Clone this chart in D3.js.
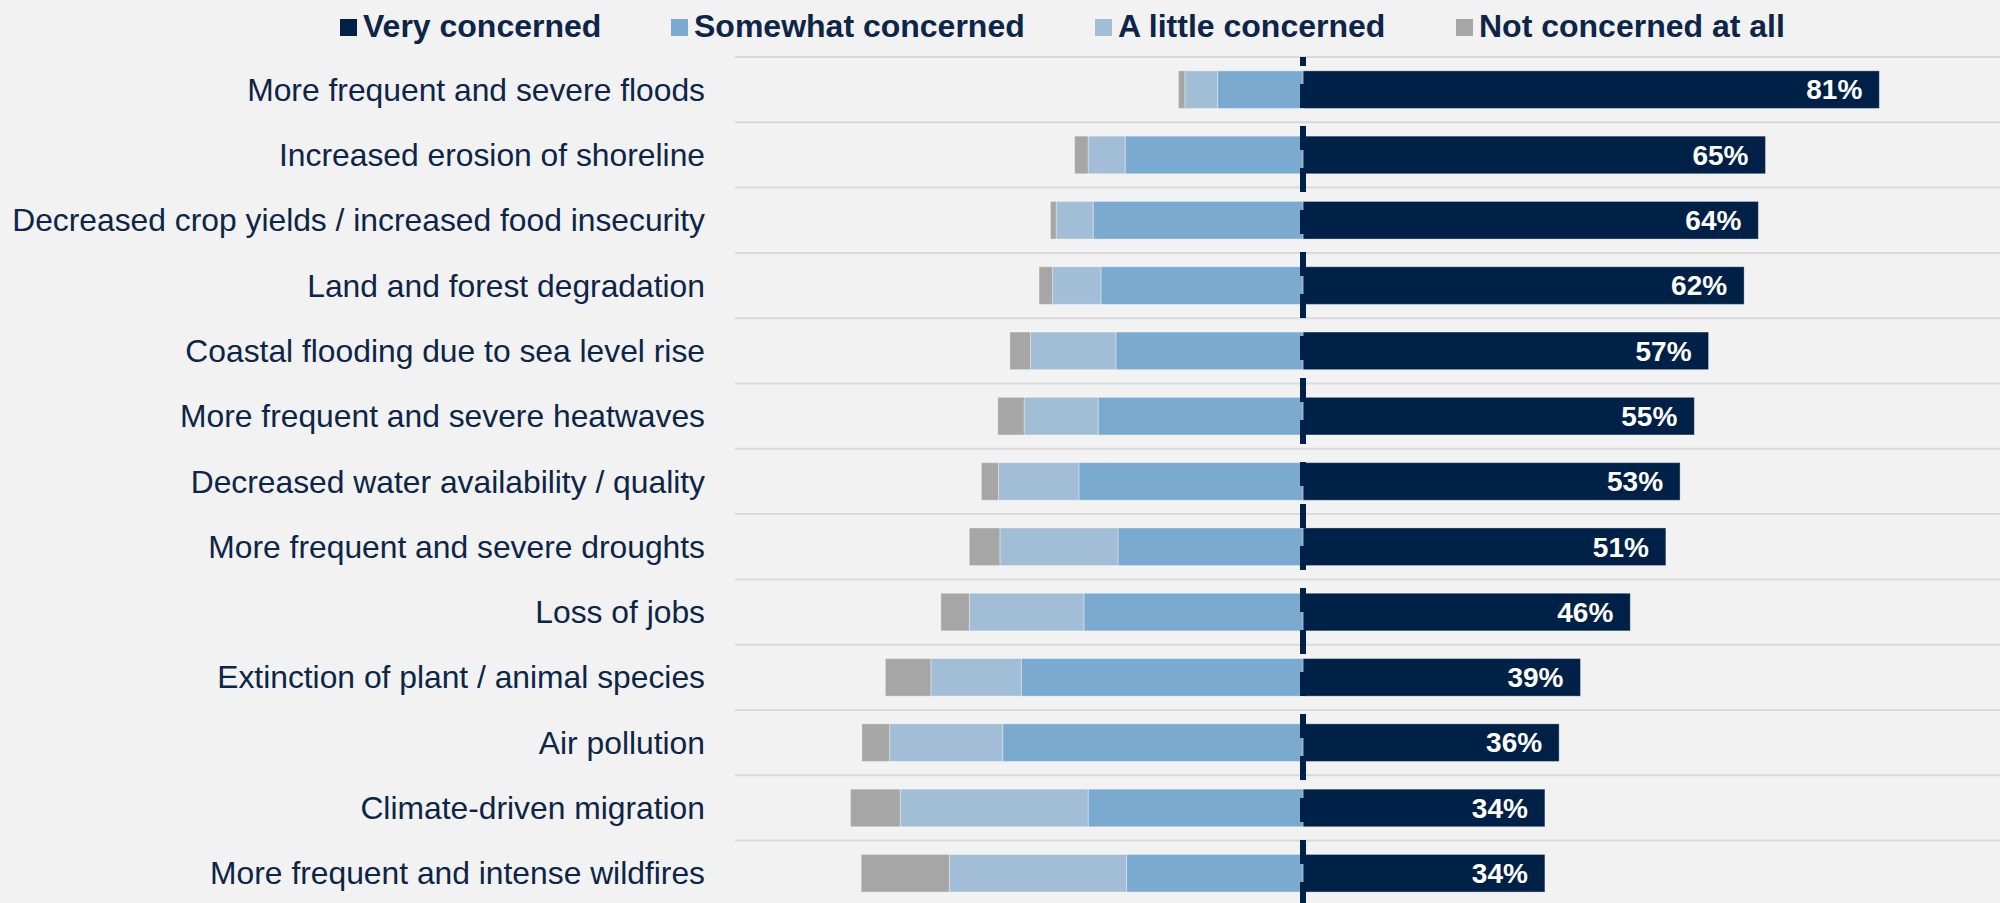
<!DOCTYPE html>
<html>
<head>
<meta charset="utf-8">
<script src="https://cdn.jsdelivr.net/npm/d3@7/dist/d3.min.js"></script>
<style>
  html, body { margin: 0; padding: 0; background: #f2f2f2; }
  svg { display: block; font-family: "Liberation Sans", Arial, sans-serif; }
</style>
</head>
<body>
<svg id="chart" width="2000" height="903"></svg>
<script>
const categories = [
  "More frequent and severe floods",
  "Increased erosion of shoreline",
  "Decreased crop yields / increased food insecurity",
  "Land and forest degradation",
  "Coastal flooding due to sea level rise",
  "More frequent and severe heatwaves",
  "Decreased water availability / quality",
  "More frequent and severe droughts",
  "Loss of jobs",
  "Extinction of plant / animal species",
  "Air pollution",
  "Climate-driven migration",
  "More frequent and intense wildfires"
];
const veryConcerned     = [81, 65, 64, 62, 57, 55, 53, 51, 46, 39, 36, 34, 34];
const somewhatConcerned = [12, 25, 29.5, 28.4, 26.3, 28.8, 31.5, 26, 30.8, 39.6, 42.2, 30.2, 24.8];
const littleConcerned   = [4.6, 5.2, 5.2, 6.8, 12, 10.4, 11.3, 16.6, 16.1, 12.7, 15.9, 26.4, 24.9];
const notConcerned      = [0.9, 1.9, 0.8, 1.9, 2.9, 3.7, 2.4, 4.3, 4, 6.4, 3.9, 7, 12.4];
const seriesNames = ["Very concerned", "Somewhat concerned", "A little concerned", "Not concerned at all"];
const seriesColors = ["#002147", "#7baad1", "#a2bdd6", "#a6a6a6"];

const svg = d3.select("#chart");
const W = 2000;
const textColor = "#0c2548";

const center = 1303, pxPerPct = 7.115;
const x = d3.scaleLinear().domain([-100, 100]).range([center - 100 * pxPerPct, center + 100 * pxPerPct]);

const topY = 57, step = 65.3;
const yRow = d3.scaleBand().domain(categories).range([topY, topY + step * categories.length]);
const y = d3.scaleBand().domain(categories).range([topY, topY + step * categories.length])
  .paddingInner(0.424).paddingOuter(0.212);

// gridlines
svg.append("g").selectAll("line").data(categories).join("line")
  .attr("x1", 735).attr("x2", W)
  .attr("y1", d => yRow(d)).attr("y2", d => yRow(d))
  .attr("stroke", "#d9d9d9").attr("stroke-width", 2);

// build stacked segments
const rows = categories.map((c, i) => {
  const s = somewhatConcerned[i], l = littleConcerned[i], n = notConcerned[i];
  return {
    cat: c,
    segs: [
      { k: 0, x0: 0, x1: veryConcerned[i] },
      { k: 1, x0: -s, x1: 0 },
      { k: 2, x0: -(s + l), x1: -s },
      { k: 3, x0: -(s + l + n), x1: -(s + l) }
    ],
    very: veryConcerned[i]
  };
});

const gBars = svg.append("g");
rows.forEach(r => {
  gBars.append("g").selectAll("rect").data(r.segs).join("rect")
    .attr("x", d => x(d.x0))
    .attr("width", d => x(d.x1) - x(d.x0))
    .attr("y", y(r.cat))
    .attr("height", y.bandwidth())
    .attr("fill", d => seriesColors[d.k])
    .attr("stroke", "rgba(255,255,255,0.35)")
    .attr("stroke-width", 1);
});

// value labels
svg.append("g").selectAll("text").data(rows).join("text")
  .attr("x", d => x(d.very) - 17)
  .attr("y", d => y(d.cat) + y.bandwidth() / 2)
  .attr("dy", "0.35em")
  .attr("text-anchor", "end")
  .attr("fill", "#ffffff")
  .attr("font-weight", "bold")
  .attr("font-size", 28)
  .text(d => d.very + "%");

// center dashed line
svg.append("line")
  .attr("x1", x(0)).attr("x2", x(0))
  .attr("y1", topY).attr("y2", 903)
  .attr("stroke", seriesColors[0]).attr("stroke-width", 6)
  .attr("stroke-dasharray", "24,18").attr("stroke-dashoffset", 15);

// category labels
svg.append("g").selectAll("text").data(categories).join("text")
  .attr("x", 705)
  .attr("y", d => yRow(d) + yRow.bandwidth() / 2)
  .attr("dy", "0.35em")
  .attr("text-anchor", "end")
  .attr("fill", textColor)
  .attr("font-size", 31.8)
  .text(d => d);

// legend
const legendX = [340, 671, 1095, 1456];
const leg = svg.append("g").selectAll("g").data(seriesNames).join("g")
  .attr("transform", (d, i) => `translate(${legendX[i]},0)`);
leg.append("rect").attr("x", 0).attr("y", 19).attr("width", 17).attr("height", 17)
  .attr("fill", (d, i) => seriesColors[i]);
leg.append("text").attr("x", 23).attr("y", 37)
  .attr("fill", textColor).attr("font-weight", "bold").attr("font-size", 32)
  .text(d => d);
</script>
</body>
</html>
